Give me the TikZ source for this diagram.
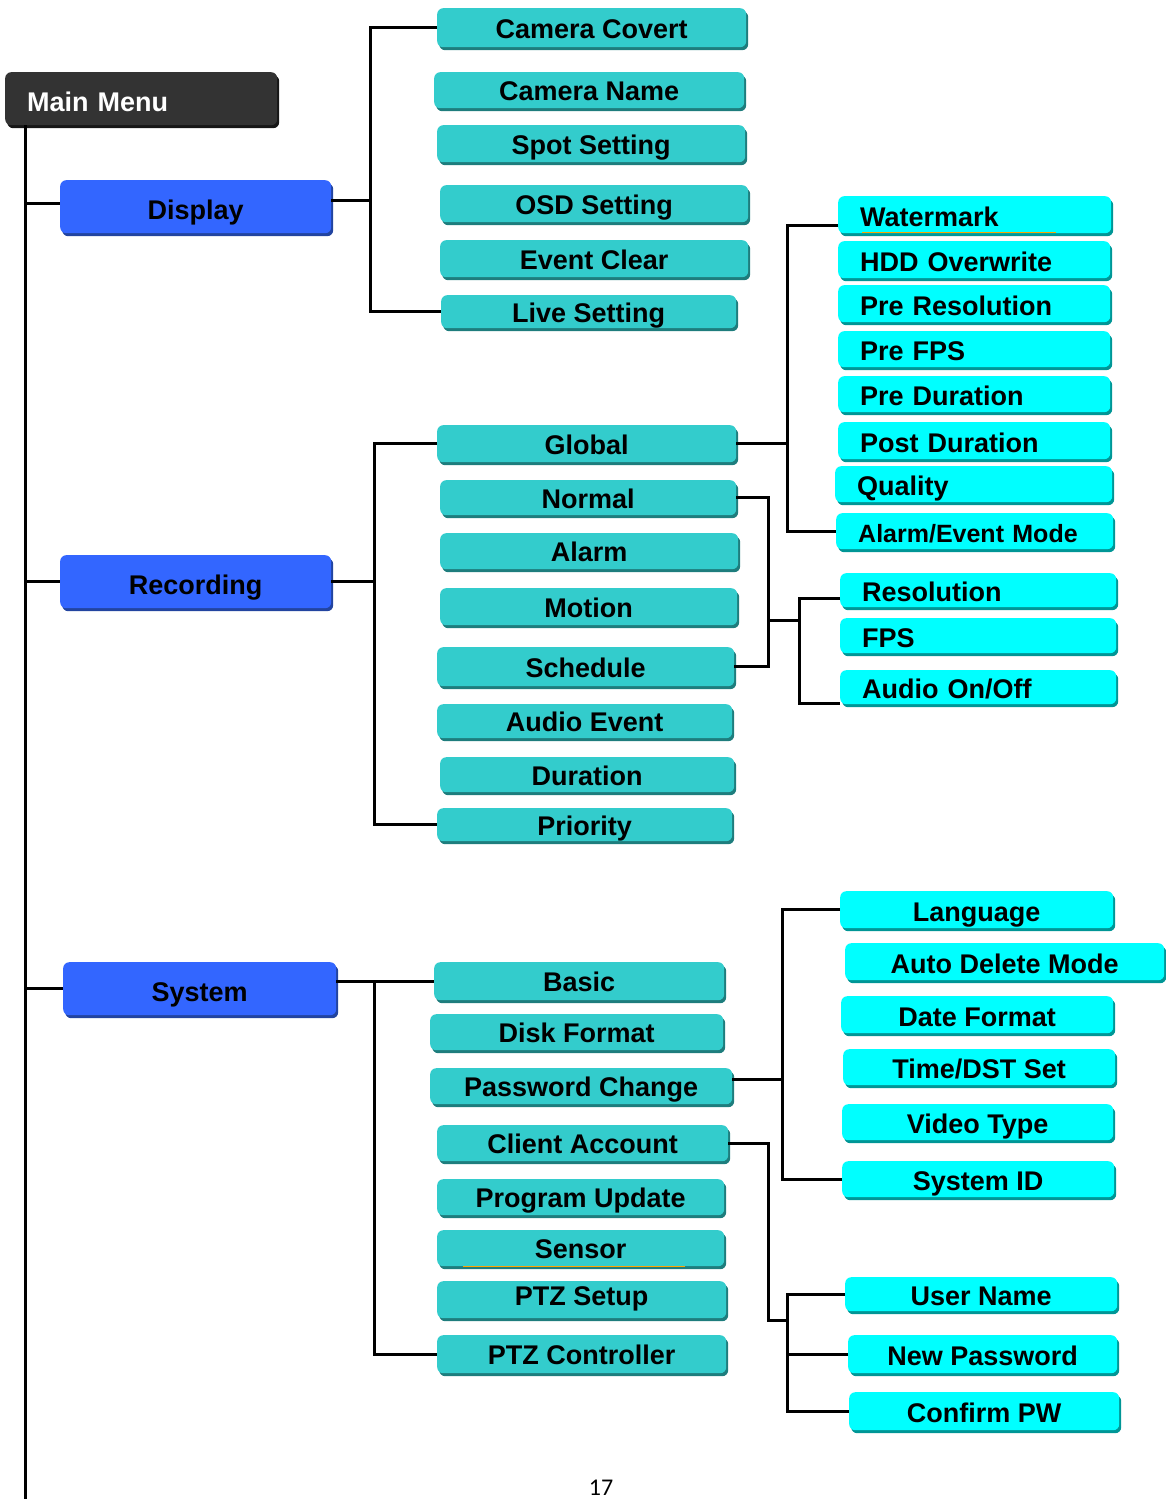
\documentclass[tikz,border=0pt]{standalone}
\usepackage{fontspec}
\setmainfont{Liberation Sans}
\newfontfamily\pagefont{Carlito}
\usepackage{tikz}
\usetikzlibrary{shadows}

\begin{document}
\begin{tikzpicture}[x=1pt, y=-1pt,
			menubox/.style={rounded corners=6pt, anchor=north west, inner sep=0pt, fill=#1,
				font=\fontsize{27}{32}\selectfont\bfseries, text depth=5pt},
			topbox/.style={menubox=darkbox, text=white, align=left, inner xsep=22pt, text width=228pt,
				text height=30pt,
				drop shadow={shadow xshift=2pt, shadow yshift=-3pt, opacity=1, fill=darkshade}},
			groupbox/.style={menubox=bluebox, text height=30pt,
				drop shadow={shadow xshift=2pt, shadow yshift=-3pt, opacity=1, fill=blueshade}},
			item/.style={menubox=tealbox, text height=26pt,
				drop shadow={shadow xshift=2pt, shadow yshift=-3pt, opacity=1, fill=tealshade}},
			subitem/.style={menubox=cyanbox, text height=28pt,
				drop shadow={shadow xshift=2pt, shadow yshift=-3pt, opacity=1, fill=cyanshade}},
			lefttext/.style={align=left, inner xsep=22pt, text width=#1},
			link/.style={line width=3pt, black}
			]
			
			% Define colors
			\definecolor{darkbox}{RGB}{51,51,51}
			\definecolor{darkshade}{RGB}{22,22,22}
			\definecolor{bluebox}{RGB}{51,102,255}
			\definecolor{blueshade}{RGB}{34,68,160}
			\definecolor{tealbox}{RGB}{51,204,204}
			\definecolor{tealshade}{RGB}{30,125,125}
			\definecolor{cyanbox}{RGB}{0,255,255}
			\definecolor{cyanshade}{RGB}{0,150,150}
			
			\useasboundingbox (0,0) rectangle (1166,1499);
			
			% 1. Main menu and the three groups
			\node[topbox, minimum height=53] (mm) at (5,72) {Main Menu};
			\node[groupbox, minimum width=271, minimum height=53] (disp) at (60,180) {Display};
			\node[groupbox, minimum width=271, minimum height=53] (rec) at (60,555) {Recording};
			\node[groupbox, minimum width=273, minimum height=53] (sys) at (63,962) {System};
			
			% 2. Display items
			\node[item, minimum width=309, minimum height=39] (cc) at (437,8) {Camera Covert};
			\node[item, minimum width=310, minimum height=36] (cn) at (434,72) {Camera Name};
			\node[item, minimum width=308, minimum height=37] (spot) at (437,125) {Spot Setting};
			\node[item, minimum width=308, minimum height=37] (osd) at (440,185) {OSD Setting};
			\node[item, minimum width=308, minimum height=37] (ec) at (440,240) {Event Clear};
			\node[item, minimum width=295, minimum height=33] (ls) at (441,295) {Live Setting};
			
			% 3. Recording items
			\node[item, minimum width=299, minimum height=37] (glob) at (437,425) {Global};
			\node[item, minimum width=296, minimum height=35] (norm) at (440,480) {Normal};
			\node[item, minimum width=298, minimum height=36] (alarm) at (440,533) {Alarm};
			\node[item, minimum width=297, minimum height=37] (mot) at (440,588) {Motion};
			\node[item, minimum width=297, minimum height=39] (sched) at (437,647) {Schedule};
			\node[item, minimum width=295, minimum height=34] (ae) at (437,704) {Audio Event};
			\node[item, minimum width=294, minimum height=35] (dur) at (440,757) {Duration};
			\node[item, minimum width=295, minimum height=33] (prio) at (437,808) {Priority};
			
			% Global settings
			\node[subitem, lefttext=229pt, minimum height=37] (wm) at (838,196) {Watermark};
			\node[subitem, lefttext=228pt, minimum height=37] (hdd) at (838,241) {HDD Overwrite};
			\node[subitem, lefttext=228pt, minimum height=37] (pres) at (838,285) {Pre Resolution};
			\node[subitem, lefttext=228pt, minimum height=36] (pfps) at (838,331) {Pre FPS};
			\node[subitem, lefttext=228pt, minimum height=36] (pdur) at (838,376) {Pre Duration};
			\node[subitem, lefttext=228pt, minimum height=37] (podur) at (838,422) {Post Duration};
			\node[subitem, lefttext=233pt, minimum height=36] (qual) at (835,466) {Quality};
			\node[subitem, lefttext=233pt, minimum height=36, font=\fontsize{25}{30}\selectfont\bfseries] (aem) at (836,513) {Alarm/Event Mode};
			
			% Normal/Schedule settings
			\node[subitem, lefttext=232pt, minimum height=34] (res) at (840,573) {Resolution};
			\node[subitem, lefttext=232pt, minimum height=35] (fps) at (840,618) {FPS};
			\node[subitem, lefttext=232pt, minimum height=34] (aoo) at (840,670) {Audio On/Off};
			
			% 4. System items
			\node[item, minimum width=290, minimum height=38] (basic) at (434,962) {Basic};
			\node[item, minimum width=293, minimum height=36] (disk) at (430,1014) {Disk Format};
			\node[item, minimum width=302, minimum height=36] (pwc) at (430,1068) {Password Change};
			\node[item, minimum width=291, minimum height=36] (ca) at (437,1125) {Client Account};
			\node[item, minimum width=287, minimum height=36] (pu) at (437,1179) {Program Update};
			\node[item, minimum width=287, minimum height=36] (sens) at (437,1230) {Sensor};
			\node[item, minimum width=289, minimum height=37, text height=17pt] (ptzs) at (437,1281) {PTZ Setup};
			\node[item, minimum width=289, minimum height=38] (ptzc) at (437,1335) {PTZ Controller};
			
			% Password Change settings
			\node[subitem, minimum width=273, minimum height=37] (lang) at (840,891) {Language};
			\node[subitem, minimum width=319, minimum height=37] (adm) at (845,943) {Auto Delete Mode};
			\node[subitem, minimum width=272, minimum height=37] (df) at (841,996) {Date Format};
			\node[subitem, minimum width=272, minimum height=36] (dst) at (843,1049) {Time/DST Set};
			\node[subitem, minimum width=271, minimum height=36] (vt) at (842,1104) {Video Type};
			\node[subitem, minimum width=272, minimum height=36] (sid) at (842,1161) {System ID};
			
			% Client Account settings
			\node[subitem, minimum width=272, minimum height=34] (un) at (845,1277) {User Name};
			\node[subitem, minimum width=269, minimum height=38] (np) at (848,1335) {New Password};
			\node[subitem, minimum width=270, minimum height=38] (cpw) at (849,1392) {Confirm PW};
			
			% spell-check marks
			\draw[orange!70!yellow, line width=1pt] (862,232) -- (1056,232);
			\draw[orange!70!yellow, line width=1pt] (463,1266) -- (685,1266);
			
			% 5. Connectors
			\coordinate (trunk) at (25,1499);
			\draw[link] (mm.south -| trunk) -- (trunk);
			\draw[link] ([yshift=3pt]disp.west -| trunk) -- ([yshift=3pt]disp.west);
			\draw[link] (rec.west -| trunk) -- (rec.west);
			\draw[link] (sys.west -| trunk) -- (sys.west);
			
			% Display
			\coordinate (dbus) at (370,0);
			\draw[link] ([yshift=6pt]disp.east) -- ([yshift=6pt]disp.east -| dbus);
			\draw[link] (cc.west) -- (cc.west -| dbus) -- (ls.west -| dbus) -- (ls.west);
			
			% Recording
			\coordinate (rbus) at (374,0);
			\draw[link] (rec.east) -- (rec.east -| rbus);
			\draw[link] (glob.west) -- (glob.west -| rbus) -- (prio.west -| rbus) -- (prio.west);
			
			\coordinate (gbus) at (787,0);
			\draw[link] (glob.east) -- (glob.east -| gbus);
			\draw[link] ([yshift=-11pt]wm.west) -- ([yshift=-11pt]wm.west -| gbus) -- (aem.west -| gbus) -- (aem.west);
			
			\coordinate (nbus) at (768,0);
			\coordinate (nmid) at (768,620);
			\coordinate (obus) at (799,0);
			\draw[link] (norm.east) -- (norm.east -| nbus) -- (sched.east -| nbus) -- (sched.east);
			\draw[link] (nmid) -- (nmid -| obus);
			\draw[link] ([yshift=-8pt]res.west) -- ([yshift=-8pt]res.west -| obus) -- ([yshift=-16pt]aoo.west -| obus) -- ([yshift=-16pt]aoo.west);
			
			% System
			\coordinate (sbus) at (374,0);
			\draw[link] (basic.west -| sys.east) -- (basic.west);
			\draw[link] (basic.west -| sbus) -- (ptzc.west -| sbus) -- (ptzc.west);
			
			\coordinate (pbus) at (782,0);
			\draw[link] ([yshift=7pt]pwc.east) -- ([yshift=7pt]pwc.east -| pbus);
			\draw[link] (lang.west) -- (lang.west -| pbus) -- (sid.west -| pbus) -- (sid.west);
			
			\coordinate (cbus) at (768,1320);
			\coordinate (ubus) at (787,0);
			\draw[link] (ca.east) -- (ca.east -| cbus) -- (cbus) -- (cbus -| ubus);
			\draw[link] (un.west) -- (un.west -| ubus) -- (cpw.west -| ubus) -- (cpw.west);
			\draw[link] (np.west -| ubus) -- (np.west);
			
			% page number
			\node[font=\pagefont\fontsize{24}{28}\selectfont, anchor=base, inner sep=0pt] (page) at (601,1495) {17};
			
		\end{tikzpicture}
\end{document}
